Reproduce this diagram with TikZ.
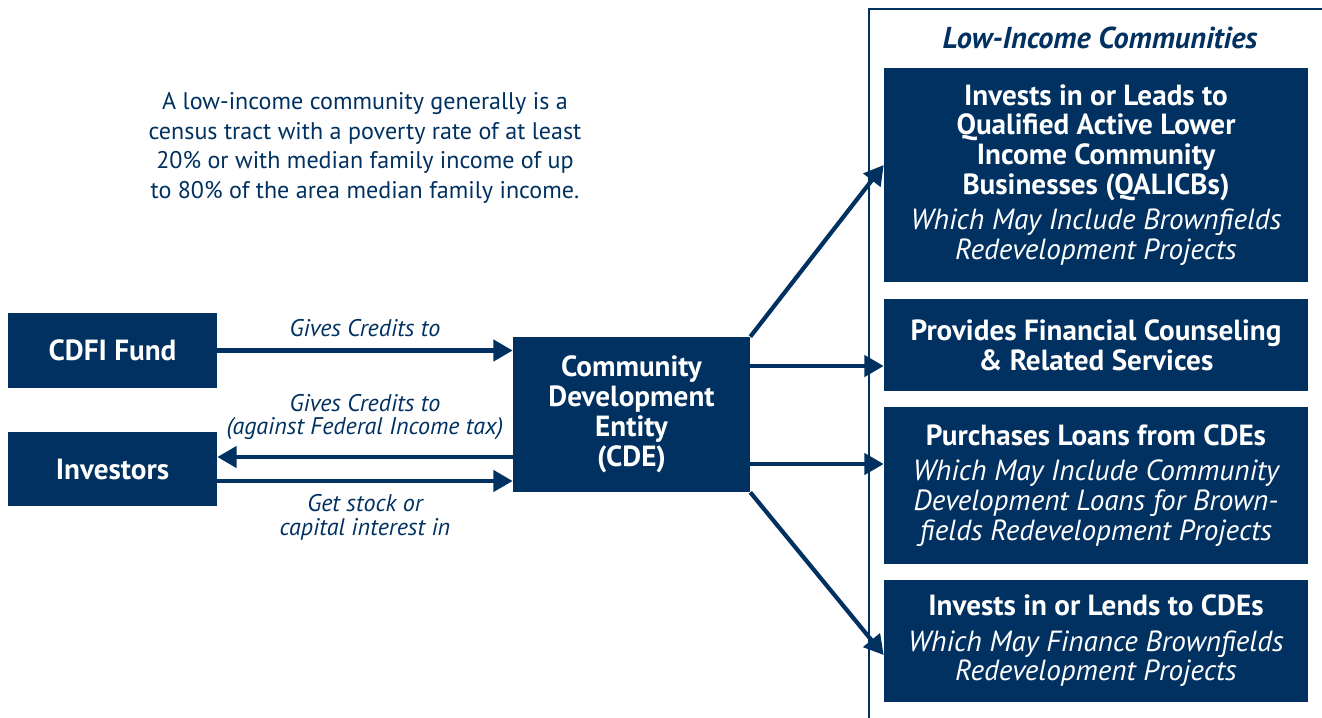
\documentclass[tikz,border=0pt]{standalone}
\usepackage{fontspec}
\setmainfont{PT Sans}
\usepackage[dvipsnames]{xcolor}
\usetikzlibrary{arrows.meta, positioning}
\definecolor{cdenavy}{RGB}{0,49,96}

\tikzset{
    navybox/.style={fill=cdenavy, text=white, font=\bfseries\fontsize{16.6}{17}\selectfont, align=center, inner sep=0pt},
    flowarrow/.style={-{Triangle[length=11pt,width=12pt]}, line width=2.4pt, draw=cdenavy},
    arrowlabel/.style={text=cdenavy, font=\itshape\fontsize{13.7}{13.6}\selectfont, align=center}
}

\begin{document}
\begin{tikzpicture}[x=0.02cm,y=-0.02cm]
        \useasboundingbox (0,0) rectangle (1322,717);

        % frame round the communities
        \draw[cdenavy, line width=0.9pt] (869,730) |- (1340,9);
        \node[text=cdenavy, font=\bfseries\itshape\fontsize{17.2}{17}\selectfont] at (1100,38) (lic) {Low-Income Communities};

        \node[text=cdenavy, font=\fontsize{13.7}{16.8}\selectfont, align=center] at (365,148) (note) {A low-income community generally is a\\census tract with a poverty rate of at least\\20\% or with median family income of up\\to 80\% of the area median family income.};

        \node[navybox, minimum width=4.18cm, minimum height=1.5cm] at (112.5,350.5) (cdfi) {CDFI Fund};
        \node[navybox, minimum width=4.18cm, minimum height=1.48cm] at (112.5,469) (inv) {Investors};
        \node[navybox, minimum width=4.74cm, minimum height=3.1cm] at (631.5,414.5) (cde) {Community\\Development\\Entity\\(CDE)};

        \node[navybox, minimum width=8.48cm, minimum height=4.28cm] at (1096,175) (qalicb) {Invests in or Leads to\\Qualified Active Lower\\Income Community\\Businesses (QALICBs)\\[3pt]\mdseries\itshape Which May Include Brownfields\\\mdseries\itshape Redevelopment Projects};
        \node[navybox, minimum width=8.48cm, minimum height=1.84cm] at (1096,345) (counsel) {Provides Financial Counseling\\\& Related Services};
        \node[navybox, minimum width=8.48cm, minimum height=3.14cm] at (1096,485.5) (loans) {Purchases Loans from CDEs\\[3pt]\mdseries\itshape Which May Include Community\\\mdseries\itshape Development Loans for Brown-\\\mdseries\itshape fields Redevelopment Projects};
        \node[navybox, minimum width=8.48cm, minimum height=2.44cm] at (1096,641) (lends) {Invests in or Lends to CDEs\\[3pt]\mdseries\itshape Which May Finance Brownfields\\\mdseries\itshape Redevelopment Projects};

        \draw[flowarrow] (cdfi.east) -- (cdfi.east -| cde.west) node[arrowlabel, midway, above=3pt] {Gives Credits to};
        \draw[flowarrow] ([yshift=0.24cm]cde.west |- inv.east) -- ([yshift=0.24cm]inv.east) node[arrowlabel, midway, above=5pt] {Gives Credits to\\(against Federal Income tax)};
        \draw[flowarrow] ([yshift=-0.24cm]inv.east) -- ([yshift=-0.24cm]cde.west |- inv.east) node[arrowlabel, midway, below=3pt] {Get stock or\\capital interest in};

        \draw[flowarrow] (cde.north east) -- ([yshift=0.2cm]qalicb.west);
        \draw[flowarrow] ([yshift=-0.42cm]counsel.west -| cde.east) -- ([yshift=-0.42cm]counsel.west);
        \draw[flowarrow] ([yshift=0.43cm]loans.west -| cde.east) -- ([yshift=0.43cm]loans.west);
        \draw[flowarrow] (cde.south east) -- ([yshift=-0.28cm]lends.west);
\end{tikzpicture}
\end{document}
